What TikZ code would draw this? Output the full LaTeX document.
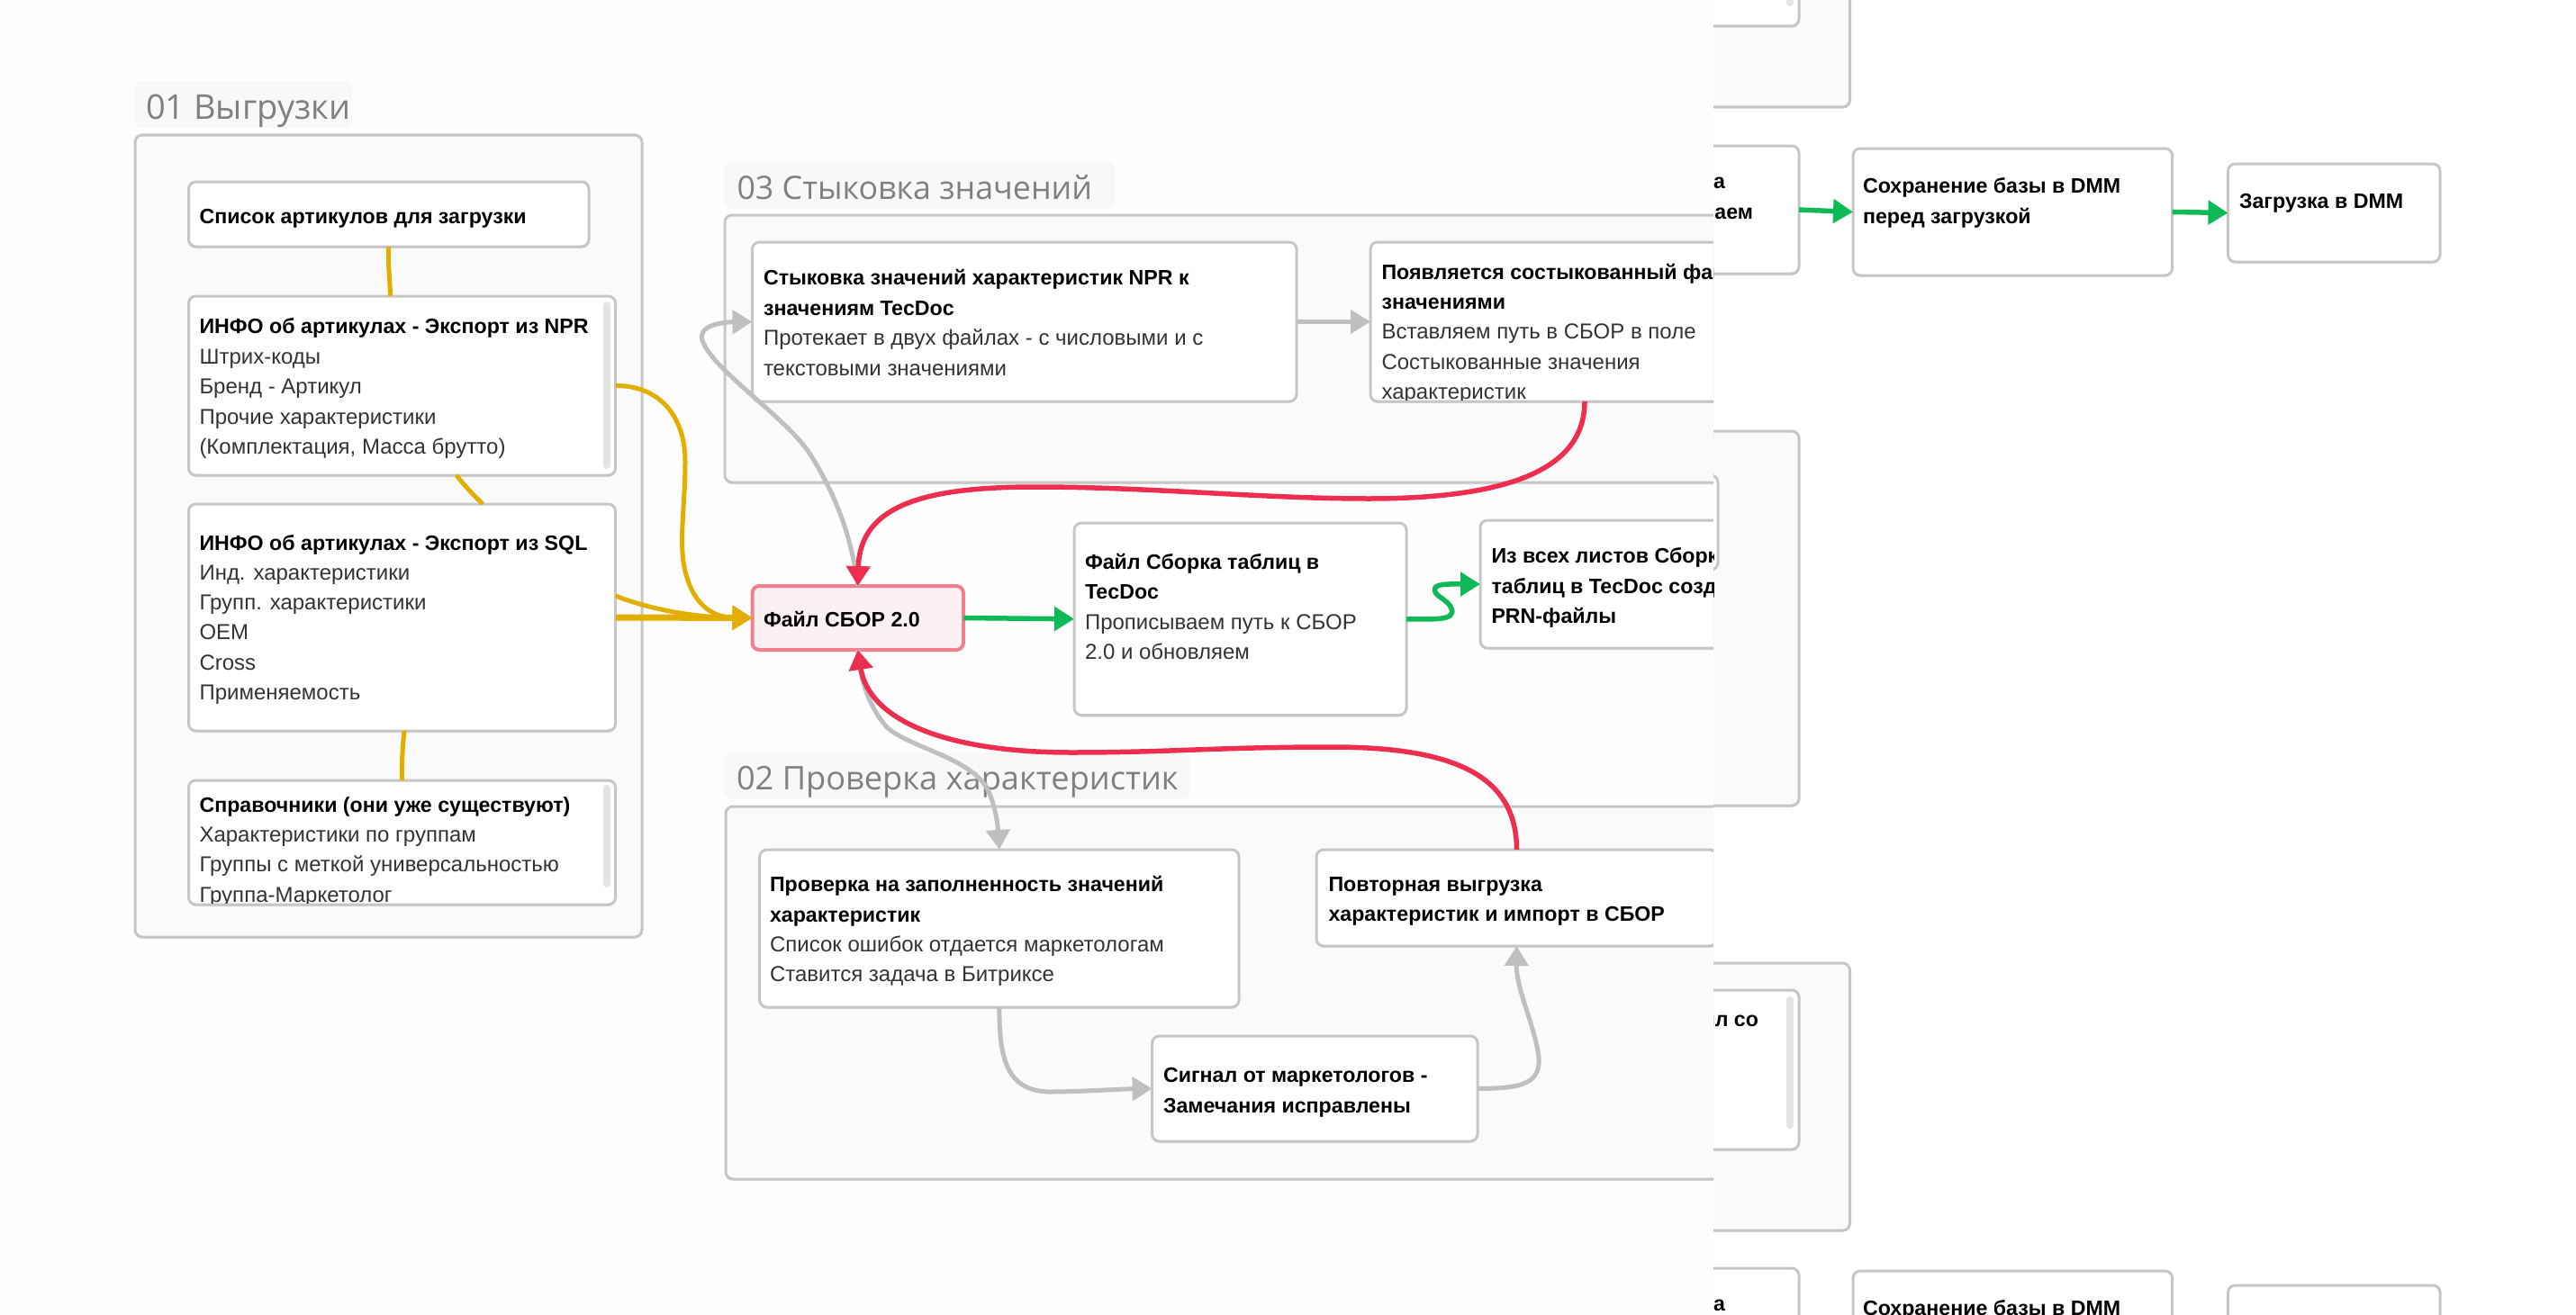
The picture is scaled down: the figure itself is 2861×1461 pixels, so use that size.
\documentclass[tikz,border=0pt]{standalone}
\usepackage{fontspec}
\setmainfont{Liberation Sans}
\newfontfamily\titlefont{Open Sans}
\usetikzlibrary{arrows.meta,shadows,calc}
\definecolor{edge}{HTML}{C6C6C6}
\definecolor{groupfill}{HTML}{FAFAFA}
\definecolor{tagfill}{HTML}{F8F8F8}
\definecolor{titlegrey}{HTML}{808080}
\definecolor{bodytext}{HTML}{333333}
\definecolor{yel}{HTML}{E2AE00}
\definecolor{redc}{HTML}{EE2E4E}
\definecolor{grn}{HTML}{0FB955}
\definecolor{greyc}{HTML}{BFBFBF}
\definecolor{scroll}{HTML}{E4E4E4}
\definecolor{sborfill}{HTML}{FDF0F2}
\definecolor{sboredge}{HTML}{F27E8E}
\definecolor{maskc}{HTML}{FEFEFE}
\tikzset{
  boxbase/.style={rectangle,rounded corners=8pt,inner sep=0pt,outer sep=0pt,line width=3pt},
  cardbox/.style={boxbase,draw=edge,fill=white,drop shadow={shadow xshift=0pt,shadow yshift=-2pt,opacity=.10,fill=black}},
  groupbox/.style={boxbase,draw=edge,fill=groupfill,drop shadow={shadow xshift=0pt,shadow yshift=-2pt,opacity=.08,fill=black}},
  hotbox/.style={boxbase,draw=sboredge,fill=sborfill,line width=4pt},
  tagbox/.style={rectangle,rounded corners=8pt,inner sep=0pt,outer sep=0pt,fill=tagfill},
  scrollbar/.style={rectangle,rounded corners=4pt,inner sep=0pt,outer sep=0pt,fill=scroll},
  boldtext/.style={anchor=base west,inner sep=0pt,outer sep=0pt,text=black,font=\fontsize{23.2}{23.2}\selectfont\bfseries},
  regtext/.style={anchor=base west,inner sep=0pt,outer sep=0pt,text=bodytext,font=\fontsize{24}{24}\selectfont},
  titletext/.style={anchor=base west,inner sep=0pt,outer sep=0pt,text=titlegrey,font=\fontsize{#1}{#1}\selectfont\titlefont},
  yline/.style={draw=yel,line width=5pt},
  gline/.style={draw=greyc,line width=5pt},
  rline/.style={draw=redc,line width=5.5pt},
  nline/.style={draw=grn,line width=5.5pt},
  ytip/.style={-{Triangle[length=22pt,width=26pt]}},
}
\newcommand{\bx}[6]{\node[#1,minimum width={#4-#2},minimum height={#5-#3}] (#6) at ({(#2+#4)/2},{(#3+#5)/2}) {};}
\begin{document}
\begin{tikzpicture}[x=1pt,y=-1pt]
\useasboundingbox (0,0) rectangle (2861,1461);
% ---------- layer behind: the part right of the cut
\bx{groupbox}{1500}{-300}{2054.5}{119}{gTop}
\bx{cardbox}{1600}{-300}{1998}{29}{cTop}
\bx{scrollbar}{1984}{-290}{1992}{7}{sTop}
\bx{groupbox}{1500}{479}{1998}{895}{gMid}
\bx{cardbox}{1500}{528}{1908}{633}{cMid}
\bx{groupbox}{1500}{1070}{2054.5}{1367}{gBot}
\bx{cardbox}{1600}{1100}{1998}{1277}{cBot}
\bx{scrollbar}{1984}{1107}{1992}{1254}{sBot}
\node[boldtext,anchor=base east] (tBot) at (1953,1140) {йл со};
% first row
\bx{cardbox}{1700}{162}{1998}{304}{ae}
\bx{cardbox}{2058}{165}{2412.6}{306}{sav}
\bx{cardbox}{2474.5}{182}{2710}{291}{dmm}
\node[boldtext,anchor=base east] (tA) at (1916,209) {а};
\node[boldtext,anchor=base east] (tB) at (1947,243) {аем};
\node[boldtext] (tS1) at (2069,214.5) {Сохранение базы в DMM};
\node[boldtext] (tS2) at (2069,248) {перед загрузкой};
\node[boldtext] (tD) at (2487,231.5) {Загрузка в DMM};
\draw[nline,ytip] (ae.east) -- (sav.west);
\draw[nline,ytip] (sav.east) -- (dmm.west);
% second row
\bx{cardbox}{1700}{1409}{1998}{1551}{aeb}
\bx{cardbox}{2058}{1412}{2412.6}{1553}{savb}
\bx{cardbox}{2474.5}{1428}{2710}{1537}{dmmb}
\node[boldtext,anchor=base east] (tAb) at (1916,1456) {а};
\node[boldtext] (tSb) at (2069,1461) {Сохранение базы в DMM};
% ---------- front layer, cut at x = 1903
\fill[maskc] (0,0) rectangle (1903,1461);
\begin{scope}
\clip (0,0) rectangle (1903,1461);
% group 01
\bx{groupbox}{150}{150}{713}{1041}{g1}
\bx{tagbox}{149}{90}{391}{142}{tag1}
\node[titletext=38] (title1) at (162,132) {01 Выгрузки};
\bx{cardbox}{209.5}{202}{654}{274}{n1}
\node[boldtext] (n1a) at (221.5,248) {Список артикулов для загрузки};
\bx{cardbox}{209.5}{329}{683.6}{528}{n2}
\bx{scrollbar}{670}{335}{678}{521}{s2}
\node[boldtext] (n2a) at (221.5,370) {ИНФО об артикулах - Экспорт из NPR};
\node[regtext] (n2b) at (221.5,404) {Штрих-коды};
\node[regtext] (n2c) at (221.5,437) {Бренд - Артикул};
\node[regtext] (n2d) at (221.5,471) {Прочие характеристики};
\node[regtext] (n2e) at (221.5,504) {(Комплектация, Масса брутто)};
\bx{cardbox}{209.5}{560}{683.6}{812}{n3}
\node[boldtext] (n3a) at (221.5,611) {ИНФО об артикулах - Экспорт из SQL};
\node[regtext] (n3b) at (221.5,644) {Инд. характеристики};
\node[regtext] (n3c) at (221.5,677) {Групп. характеристики};
\node[regtext] (n3d) at (221.5,710) {OEM};
\node[regtext] (n3e) at (221.5,744) {Cross};
\node[regtext] (n3f) at (221.5,777) {Применяемость};
\bx{cardbox}{209.5}{867}{683.6}{1005}{n4}
\bx{scrollbar}{670}{872}{678}{986}{s4}
\node[boldtext] (n4a) at (221.5,902) {Справочники (они уже существуют)};
\node[regtext] (n4b) at (221.5,935) {Характеристики по группам};
\node[regtext] (n4c) at (221.5,968) {Группы с меткой универсальностью};
\begin{scope}
\clip (209.5,867) rectangle (683.6,1003.5);
\node[regtext] (n4d) at (221.5,1002) {Группа-Маркетолог};
\end{scope}
% group 03
\bx{groupbox}{805}{239}{2100}{536}{g3}
\bx{tagbox}{804}{180}{1238.6}{232}{tag3}
\node[titletext=35.8] (title3) at (818.5,221) {03 Стыковка значений};
\bx{cardbox}{835.5}{269}{1440}{446}{stk}
\node[boldtext] (stka) at (848,316) {Стыковка значений характеристик NPR к};
\node[boldtext] (stkb) at (848,350) {значениям TecDoc};
\node[regtext] (stkc) at (848,383) {Протекает в двух файлах - с числовыми и с};
\node[regtext] (stkd) at (848,417) {текстовыми значениями};
\bx{cardbox}{1522}{269}{1998}{446}{poy}
\node[boldtext] (poya) at (1534.5,310.5) {Появляется состыкованный файл};
\node[boldtext] (poyb) at (1534.5,343.5) {значениями};
\node[regtext] (poyc) at (1534.5,376.5) {Вставляем путь в СБОР в поле};
\node[regtext] (poyd) at (1534.5,410) {Состыкованные значения};
\begin{scope}
\clip (1522,269) rectangle (1998,444.5);
\node[regtext] (poye) at (1534.5,443.5) {характеристик};
\end{scope}
% group 02
\bx{groupbox}{806}{896}{2100}{1310}{g2}
\bx{tagbox}{804.5}{836}{1321}{887.5}{tag2}
\node[titletext=36.2] (title2) at (818,877) {02 Проверка характеристик};
\bx{cardbox}{843.7}{944}{1376}{1119}{prov}
\node[boldtext] (prova) at (855,990.5) {Проверка на заполненность значений};
\node[boldtext] (provb) at (855,1024) {характеристик};
\node[regtext] (provc) at (855,1057) {Список ошибок отдается маркетологам};
\node[regtext] (provd) at (855,1090) {Ставится задача в Битриксе};
\bx{cardbox}{1462}{944}{1907}{1051}{pov}
\node[boldtext] (pova) at (1475.5,990.5) {Повторная выгрузка};
\node[boldtext] (povb) at (1475.5,1023.5) {характеристик и импорт в СБОР};
\bx{cardbox}{1279.6}{1151}{1641}{1268}{sig}
\node[boldtext] (siga) at (1292,1202) {Сигнал от маркетологов -};
\node[boldtext] (sigb) at (1292,1236.5) {Замечания исправлены};
% centre
\bx{hotbox}{835.5}{651}{1070}{722}{sbor}
\node[boldtext] (sbora) at (848,696) {Файл СБОР 2.0};
\bx{cardbox}{1193}{581}{1562}{794.5}{fil}
\node[boldtext] (fila) at (1205,632.5) {Файл Сборка таблиц в};
\node[boldtext] (filb) at (1205,665.5) {TecDoc};
\node[regtext] (filc) at (1205,699.5) {Прописываем путь к СБОР};
\node[regtext] (fild) at (1205,732.5) {2.0 и обновляем};
\bx{cardbox}{1644}{578}{1990}{720}{izv}
\node[boldtext] (izva) at (1656.5,625.5) {Из всех листов Сборки};
\node[boldtext] (izvb) at (1656.5,659) {таблиц в TecDoc создаем};
\node[boldtext] (izvc) at (1656.5,692.5) {PRN-файлы};
% connectors
\draw[yline] (n1.south) .. controls (431,300) and (433,310) .. ([xshift=-13pt]n2.north);
\draw[yline] ([xshift=60.5pt]n2.south) .. controls (516,540) and (526,550) .. ([xshift=89.5pt]n3.north);
\draw[yline] ([xshift=2.5pt]n3.south) .. controls (447,830) and (446,850) .. (n4.north);
\draw[yline,ytip] (n2.east) .. controls (730,428) and (761,460) .. (761,513) .. controls (761,560) and (754,600) .. (760,630) .. controls (768,670) and (790,686) .. (sbor.west);
\draw[yline,ytip] ([yshift=24pt]n3.east) .. controls (730,680) and (780,686) .. (sbor.west);
\draw[yline,line width=7pt,ytip] (n3.east) -- (sbor.west);
\draw[gline,ytip] (sbor.north) .. controls (945,590) and (925,545) .. (900,505) .. controls (875,465) and (790,410) .. (780,378) .. controls (775,362) and (800,358) .. (stk.west);
\draw[gline,ytip] (stk.east) -- (poy.west);
\draw[gline,ytip] (sbor.south) .. controls (955,755) and (965,785) .. (985,808) .. controls (1010,830) and (1070,840) .. (1094,872) .. controls (1105,890) and (1108,915) .. (prov.north);
\draw[gline,ytip] (prov.south) .. controls (1110,1170) and (1115,1212) .. (1165,1213) .. controls (1200,1213) and (1240,1210) .. (sig.west);
\draw[gline,ytip] (sig.east) .. controls (1680,1209) and (1712,1208) .. (1709,1175) .. controls (1705,1140) and (1684,1100) .. (pov.south);
\draw[rline,ytip] (poy.south) .. controls (1760,510) and (1700,554) .. (1520,554) .. controls (1400,554) and (1280,541) .. (1150,541) .. controls (1030,541) and (955,560) .. (sbor.north);
\draw[rline,ytip] (pov.north) .. controls (1684,870) and (1630,830) .. (1480,830) .. controls (1350,830) and (1300,836) .. (1190,836) .. controls (1050,836) and (965,800) .. (sbor.south);
\draw[nline,ytip] (sbor.east) -- (fil.west);
\draw[nline,ytip] (fil.east) .. controls (1590,688) and (1618,690) .. (1612,676) .. controls (1608,665) and (1590,662) .. (1594,653) .. controls (1597,648) and (1615,649) .. (izv.west);
\end{scope}
\end{tikzpicture}
\end{document}
